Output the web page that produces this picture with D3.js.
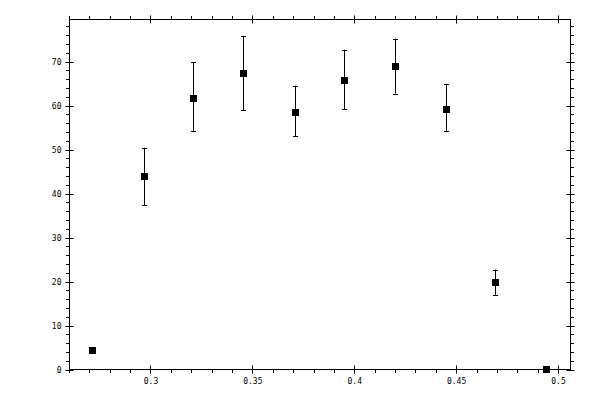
<!DOCTYPE html>
<html>
<head>
<meta charset="utf-8">
<script src="https://cdn.jsdelivr.net/npm/d3@7"></script>
<style>
  body { margin: 0; background: #fff; }
  text { font-family: 'DejaVu Sans Mono', monospace; font-size: 8px; fill: #000; }
</style>
</head>
<body>
<div id="chart"></div>
<script>
const xValues = [0.2715, 0.2966, 0.3211, 0.3456, 0.3707, 0.3952, 0.4202, 0.4448, 0.4693, 0.4942]
const yValues = [4.5, 43.9, 61.8, 67.3, 58.6, 65.9, 68.9, 59.3, 19.8, 0.2]
const yLow = [4.1, 37.3, 54.2, 58.9, 53.0, 59.1, 62.7, 54.1, 17.0, 0.0]
const yHigh = [4.9, 50.4, 69.8, 75.7, 64.5, 72.7, 75.2, 64.8, 22.7, 0.5]

const xMajor = [0.3, 0.35, 0.4, 0.45, 0.5]
const xMinor = d3.range(26, 51).map(d => d / 100).filter(d => !xMajor.some(m => Math.abs(m - d) < 1e-9))
const yMajor = [0, 10, 20, 30, 40, 50, 60, 70]
const yMinor = d3.range(0, 80, 2).filter(d => d % 10 !== 0)

const width = 600
const height = 400
const margin = { top: 19.5, left: 69.5, right: 29.5, bottom: 30.5 }

const x = d3.scaleLinear().domain([0.26025, 0.50613]).range([margin.left, width - margin.right])
const y = d3.scaleLinear().domain([0, 79.55]).range([height - margin.bottom, margin.top])

const svg = d3.select('#chart')
  .append('svg')
  .attr('width', width)
  .attr('height', height)

// frame
svg.append('rect')
  .attr('x', x.range()[0])
  .attr('y', y.range()[1])
  .attr('width', x.range()[1] - x.range()[0])
  .attr('height', y.range()[0] - y.range()[1])
  .attr('fill', 'none')
  .attr('stroke', '#000')

const axisLayer = svg.append('g').attr('stroke', '#000').attr('stroke-width', 1)

function drawTicks(vals, horizontal, pos, dir, inside, outside) {
  axisLayer.append('g')
    .selectAll('line')
    .data(vals)
    .enter()
    .append('line')
    .attr('x1', d => horizontal ? Math.round(x(d)) + 0.5 : pos - dir * inside)
    .attr('x2', d => horizontal ? Math.round(x(d)) + 0.5 : pos + dir * outside)
    .attr('y1', d => horizontal ? pos - dir * inside : Math.round(y(d)) + 0.5)
    .attr('y2', d => horizontal ? pos + dir * outside : Math.round(y(d)) + 0.5)
}

const plotBottom = y.range()[0]
const plotTop = y.range()[1]
const plotLeft = x.range()[0]
const plotRight = x.range()[1]

// bottom & top ticks (minor outward, major both sides)
drawTicks(xMinor, true, plotBottom, 1, 0, 3.5)
drawTicks(xMajor, true, plotBottom, 1, 4, 4)
drawTicks(xMinor, true, plotTop, -1, 0, 3.5)
drawTicks(xMajor, true, plotTop, -1, 4, 4)
// left & right ticks
drawTicks(yMinor, false, plotLeft, -1, 0, 3.5)
drawTicks(yMajor, false, plotLeft, -1, 4, 4)
drawTicks(yMinor, false, plotRight, 1, 0, 3.5)
drawTicks(yMajor, false, plotRight, 1, 4, 4)

// tick labels
svg.append('g')
  .selectAll('text')
  .data(xMajor)
  .enter()
  .append('text')
  .attr('x', d => x(d) + 0.5)
  .attr('y', plotBottom + 14)
  .attr('text-anchor', 'middle')
  .text(d => String(d))

svg.append('g')
  .selectAll('text')
  .data(yMajor)
  .enter()
  .append('text')
  .attr('x', plotLeft - 8)
  .attr('y', d => y(d) + 3)
  .attr('text-anchor', 'end')
  .text(d => d)

const data = xValues.map((d, i) => ({ x: d, y: yValues[i], lo: yLow[i], hi: yHigh[i] }))

// error bars
const bars = svg.append('g').attr('stroke', '#000').attr('stroke-width', 1)
bars.selectAll('.stem')
  .data(data)
  .enter()
  .append('line')
  .attr('x1', d => Math.round(x(d.x)) + 0.5)
  .attr('x2', d => Math.round(x(d.x)) + 0.5)
  .attr('y1', d => y(d.lo))
  .attr('y2', d => y(d.hi))
bars.selectAll('.cap-hi')
  .data(data)
  .enter()
  .append('line')
  .attr('x1', d => Math.round(x(d.x)) - 2)
  .attr('x2', d => Math.round(x(d.x)) + 3)
  .attr('y1', d => Math.round(y(d.hi)) + 0.5)
  .attr('y2', d => Math.round(y(d.hi)) + 0.5)
bars.selectAll('.cap-lo')
  .data(data)
  .enter()
  .append('line')
  .attr('x1', d => Math.round(x(d.x)) - 2)
  .attr('x2', d => Math.round(x(d.x)) + 3)
  .attr('y1', d => Math.round(y(d.lo)) + 0.5)
  .attr('y2', d => Math.round(y(d.lo)) + 0.5)

// markers
svg.append('g')
  .selectAll('rect')
  .data(data)
  .enter()
  .append('rect')
  .attr('x', d => Math.round(x(d.x)) - 3)
  .attr('y', d => Math.round(y(d.y)) - 3)
  .attr('width', 7)
  .attr('height', 7)
  .attr('fill', '#000')
</script>
</body>
</html>
